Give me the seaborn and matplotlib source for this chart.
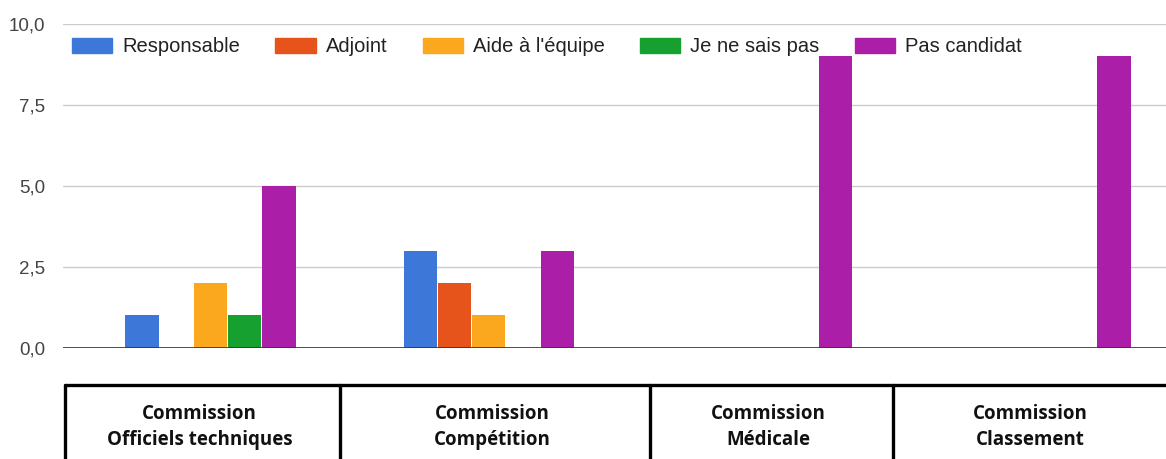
import matplotlib
matplotlib.use("Agg")
import matplotlib.pyplot as plt
from matplotlib.lines import Line2D
import seaborn as sns
import pandas as pd

# data
commissions = ["Commission\nOfficiels techniques", "Commission\nCompétition",
               "Commission\nMédicale", "Commission\nClassement"]
roles = ["Responsable", "Adjoint", "Aide à l'équipe", "Je ne sais pas", "Pas candidat"]
responsable = [1, 3, 0, 0]
adjoint = [0, 2, 0, 0]
aide = [2, 1, 0, 0]
ne_sais_pas = [1, 0, 0, 0]
pas_candidat = [5, 3, 9, 9]
colors = ["#3d78d8", "#e6541c", "#fba81e", "#15a030", "#ab1fa8"]
yticks = [0, 2.5, 5, 7.5, 10]


def main():
    series = [responsable, adjoint, aide, ne_sais_pas, pas_candidat]
    rows = []
    for role, vals in zip(roles, series):
        for c, v in zip(commissions, vals):
            rows.append({"commission": c, "role": role, "n": v})
    df = pd.DataFrame(rows)

    sns.set_style("white")
    plt.rcParams["font.family"] = ["Liberation Sans", "DejaVu Sans"]

    W, H = 1166, 459
    fig = plt.figure(figsize=(W / 100, H / 100), dpi=100)
    ax = fig.add_axes([63 / W, (H - 347.7) / H, 1 - 63 / W, (347.7 - 24) / H])

    sns.barplot(data=df, x="commission", y="n", hue="role", hue_order=roles,
                order=commissions, palette=dict(zip(roles, colors)), saturation=1,
                width=0.616, gap=0.03, linewidth=0, ax=ax, legend=False)

    ax.set_xlim(-0.530, 3.433)
    ax.set_ylim(0, 10)
    ax.set_yticks(yticks)
    ax.set_yticklabels([f"{t:.1f}".replace(".", ",") for t in yticks],
                       fontsize=13.5, color="#444444")
    ax.set_xticks([])
    ax.set_xlabel("")
    ax.set_ylabel("")
    ax.tick_params(axis="y", length=0, pad=13)
    for s in ax.spines.values():
        s.set_visible(False)
    ax.grid(axis="y", color="#cccccc", linewidth=1)
    ax.set_axisbelow(True)
    ax.axhline(0, color="#333333", linewidth=1.2, zorder=5)

    # legend across the top
    handles = [plt.Rectangle((0, 0), 1, 1, color=c) for c in colors]
    fig.legend(handles, roles, loc="center left", ncol=5, frameon=False,
               bbox_to_anchor=(72 / W, 1 - 47 / H), bbox_transform=fig.transFigure,
               borderaxespad=0, borderpad=0, fontsize=14.5, handlelength=2.0,
               handleheight=0.75, handletextpad=0.5, columnspacing=1.75,
               labelcolor="#222222")

    # category table under the chart
    top = (H - 385) / H
    borders = [65, 340, 650, 893, 1173]
    fig.add_artist(Line2D([borders[0] / W, 1], [top, top], color="black",
                          linewidth=2.4, transform=fig.transFigure))
    for b in borders[:-1]:
        fig.add_artist(Line2D([b / W, b / W], [0, top], color="black",
                              linewidth=2.4, transform=fig.transFigure))
    for i, label in enumerate(commissions):
        xc = (borders[i] + borders[i + 1]) / 2 / W
        fig.text(xc - 3 / W, (H - 427) / H, label, ha="center", va="center",
                 fontsize=13.5, fontweight="bold", family=["Open Sans", "DejaVu Sans"],
                 linespacing=1.45, color="#111111")

    fig.savefig("out.png", dpi=100)
    plt.close(fig)


if __name__ == "__main__":
    main()
